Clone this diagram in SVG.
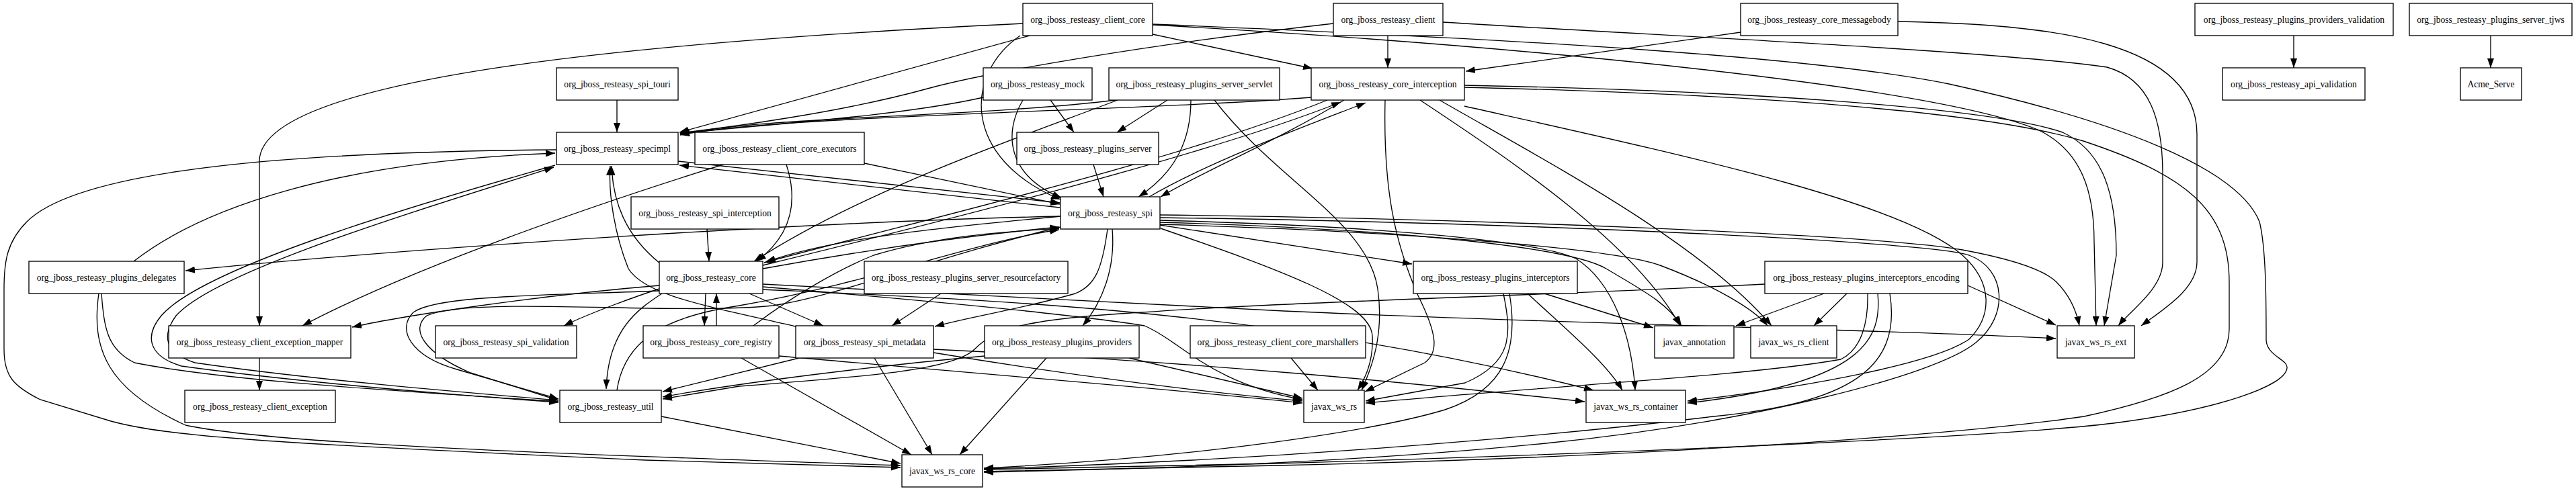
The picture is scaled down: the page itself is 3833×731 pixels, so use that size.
<svg xmlns="http://www.w3.org/2000/svg" width="3833" height="731" viewBox="0 0 3833 731">
<style>
.node rect{fill:#fff;stroke:#000;stroke-width:1.33}
.node text{font-family:"Liberation Serif","Times New Roman",serif;font-size:13.6px;text-anchor:middle;fill:#000}
#edges path{fill:none;stroke:#000;stroke-width:1.33;marker-end:url(#arr)}
</style>
<defs>
<marker id="arr" viewBox="0 0 14 10" refX="14" refY="5" markerWidth="14" markerHeight="10" markerUnits="userSpaceOnUse" orient="auto"><path d="M0,0 L14,5 L0,10 z" fill="#000"/></marker>
</defs>
<rect width="3833" height="731" fill="#fff"/>
<g id="edges">
<path d="M3413,53 L3413,101"/>
<path d="M3706,53 L3706,101"/>
<path d="M918,149 L918,197"/>
<path d="M2065,53 L2065,101"/>
<path d="M2590,48 L2181,106"/>
<path d="M1715,51 L1953,102"/>
<path d="M1532,53 L1011,197"/>
<path d="M1984,35 C1720,65 1480,105 1380,132 C1250,168 1080,190 1012,198"/>
<path d="M1463,145 C1330,175 1100,188 1012,199"/>
<path d="M1660,149 C1450,175 1150,172 1012,200"/>
<path d="M1951,145 C1700,165 1150,172 1012,201"/>
<path d="M1522,35 C1000,60 386,110 386,240 L386,485"/>
<path d="M1518,53 C1435,110 1430,235 1578,297"/>
<path d="M1522,149 C1492,200 1500,262 1580,295"/>
<path d="M1563,149 L1598,197"/>
<path d="M1737,149 L1662,197"/>
<path d="M1772,149 C1772,205 1752,255 1694,293"/>
<path d="M1807,149 C1900,270 2035,330 2050,430 C2060,500 2040,550 2026,581"/>
<path d="M1663,149 C1530,200 1290,280 1122,389"/>
<path d="M1627,245 L1642,293"/>
<path d="M1286,243 L1577,304"/>
<path d="M1170,245 C1188,300 1178,350 1126,389"/>
<path d="M1076,245 C900,300 620,395 450,485"/>
<path d="M1009,240 L1577,302"/>
<path d="M1577,309 L1011,246"/>
<path d="M1052,341 L1055,389"/>
<path d="M2824,32 C3050,36 3269,60 3269,200 L3269,390 C3269,430 3220,460 3186,485"/>
<path d="M2147,33 C2500,55 2960,75 3135,100 C3200,118 3218,180 3218,260 L3218,390 C3218,430 3170,462 3152,485"/>
<path d="M1715,37 C2300,70 2880,130 3032,193 C3100,225 3116,290 3116,360 L3119,485"/>
<path d="M2179,127 C2600,135 2960,160 3069,197 C3130,225 3149,290 3149,380 L3131,485"/>
<path d="M1715,36 C2300,60 2700,85 2900,125 C3150,180 3330,250 3362,330 C3372,370 3372,450 3372,505 C3372,530 3405,535 3403,548 C3400,575 3300,610 3145,630 C3000,648 2500,672 1900,690 L1464,699"/>
<path d="M2179,130 C2600,140 2950,165 3100,210 C3250,260 3317,310 3317,420 L3317,490 C3317,560 3226,593 3101,620 C2900,650 2400,682 1900,693 L1464,702"/>
<path d="M2179,158 C2500,230 2830,300 2920,380 C2965,420 2965,470 2930,505 C2880,540 2700,575 2511,597"/>
<path d="M1726,320 C2200,325 2800,350 2920,372 C2990,385 3040,400 3060,420 C3080,440 3090,465 3094,485"/>
<path d="M1726,324 C2300,332 2870,360 2930,380 C2985,400 2990,470 2940,510 C2880,560 2600,630 2300,660 C2000,690 1700,698 1464,703"/>
<path d="M1726,328 C2000,335 2280,355 2345,385 C2400,420 2428,500 2433,581"/>
<path d="M1726,331 C2050,340 2330,365 2390,400 C2440,430 2480,450 2502,485"/>
<path d="M1726,334 C2100,345 2400,370 2470,395 C2550,425 2610,460 2630,485"/>
<path d="M2113,149 C2250,240 2430,360 2500,485"/>
<path d="M2142,149 C2300,240 2530,360 2636,485"/>
<path d="M2061,149 C2058,280 2075,360 2110,440 C2140,500 2140,525 2120,540 L2031,583"/>
<path d="M1726,335 L2101,393"/>
<path d="M1727,340 C1900,400 2040,450 2042,500 C2044,540 2030,565 2020,581"/>
<path d="M1921,533 L1961,581"/>
<path d="M2237,437 C2250,500 2250,540 2180,570 L2032,597"/>
<path d="M2246,437 C2260,520 2240,580 2150,610 C2050,640 1800,680 1464,697"/>
<path d="M2273,437 C2330,490 2390,540 2414,581"/>
<path d="M2298,437 L2460,488"/>
<path d="M2714,437 L2583,485"/>
<path d="M2748,437 L2699,485"/>
<path d="M2779,437 C2780,480 2770,520 2739,535 C2600,560 2300,575 2032,600"/>
<path d="M2794,437 C2800,500 2780,570 2511,600"/>
<path d="M2812,437 C2830,550 2750,600 2550,620 C2300,650 1900,685 1464,698"/>
<path d="M2928,425 L3059,484"/>
<path d="M2626,423 C2300,440 1900,450 1700,465 C1520,475 1480,490 1450,520 C1420,550 1300,560 1100,575 L986,594"/>
<path d="M1135,423 L1910,463 C2400,485 2800,490 3059,504"/>
<path d="M1135,427 C1350,445 1600,468 1703,485 C1760,510 1800,570 1938,595"/>
<path d="M1135,431 C1500,448 1900,462 2371,581"/>
<path d="M1050,437 L1048,485"/>
<path d="M1066,485 L1066,437"/>
<path d="M1115,437 L1225,485"/>
<path d="M1400,437 L1327,485"/>
<path d="M1121,485 C1180,440 1250,400 1300,380 C1400,350 1500,345 1576,340"/>
<path d="M1103,533 L1356,677"/>
<path d="M1159,530 C1500,560 1750,580 1938,600"/>
<path d="M1301,533 L1387,677"/>
<path d="M1189,533 L986,583"/>
<path d="M1389,525 C1600,560 1800,585 1938,597"/>
<path d="M1389,520 C1800,540 2100,570 2358,598"/>
<path d="M1465,530 C1300,545 1100,570 986,591"/>
<path d="M1557,533 L1428,677"/>
<path d="M1680,533 L1938,593"/>
<path d="M1648,341 C1640,400 1630,425 1600,437 C1520,460 1450,470 1391,486"/>
<path d="M1655,341 C1660,400 1640,450 1611,485"/>
<path d="M984,620 L1340,690"/>
<path d="M1578,322 C1200,330 600,370 276,403"/>
<path d="M199,389 C300,310 500,240 826,228"/>
<path d="M151,437 C155,490 160,520 200,540 C350,570 650,585 831,598"/>
<path d="M147,437 C135,520 160,580 276,633 C400,660 800,675 1340,693"/>
<path d="M828,223 C450,226 120,250 40,330 C10,360 6,390 6,430 L6,520 C6,560 20,575 60,595 L165,627 C250,650 400,660 960,685 L1340,696"/>
<path d="M826,246 C600,310 300,400 240,470 C215,500 220,530 270,545 C450,570 700,590 831,599"/>
<path d="M831,596 C700,585 460,565 290,540 C245,525 240,500 262,470 C320,405 600,320 824,249"/>
<path d="M386,533 L386,581"/>
<path d="M981,425 C800,440 600,470 524,487"/>
<path d="M981,430 C950,440 880,465 839,485"/>
<path d="M985,437 C950,460 905,490 902,579"/>
<path d="M918,581 C930,500 1000,470 1100,455 C1300,420 1450,360 1576,342"/>
<path d="M981,433 C800,440 650,440 615,465 C590,490 610,530 680,550 L831,594"/>
<path d="M1578,338 C1400,380 1250,440 1150,455 C1000,470 700,440 635,470 C610,490 630,525 700,555 L831,596"/>
<path d="M982,392 C930,350 912,300 910,247"/>
<path d="M1184,486 C1050,455 960,440 935,400 C915,350 905,290 908,247"/>
<path d="M1578,322 C1450,335 1250,350 1140,390"/>
<path d="M1135,400 C1300,370 1450,350 1576,338"/>
<path d="M1135,395 C1400,330 1800,230 1995,152"/>
<path d="M1975,149 C1750,240 1400,320 1137,391"/>
<path d="M1710,293 C1800,240 1950,185 2032,153"/>
<path d="M2000,149 C1900,210 1790,255 1727,293"/>
</g>
<g id="org_jboss_resteasy_client_core" class="node"><rect x="1522" y="5" width="193" height="48"/><text x="1618.5" y="33.7">org_jboss_resteasy_client_core</text></g>
<g id="org_jboss_resteasy_client" class="node"><rect x="1984" y="5" width="163" height="48"/><text x="2065.5" y="33.7">org_jboss_resteasy_client</text></g>
<g id="org_jboss_resteasy_core_messagebody" class="node"><rect x="2590" y="5" width="234" height="48"/><text x="2707" y="33.7">org_jboss_resteasy_core_messagebody</text></g>
<g id="org_jboss_resteasy_plugins_providers_validation" class="node"><rect x="3266" y="5" width="295" height="48"/><text x="3413.5" y="33.7">org_jboss_resteasy_plugins_providers_validation</text></g>
<g id="org_jboss_resteasy_plugins_server_tjws" class="node"><rect x="3585" y="5" width="242" height="48"/><text x="3706" y="33.7">org_jboss_resteasy_plugins_server_tjws</text></g>
<g id="org_jboss_resteasy_spi_touri" class="node"><rect x="828" y="101" width="181" height="48"/><text x="918.5" y="129.7">org_jboss_resteasy_spi_touri</text></g>
<g id="org_jboss_resteasy_mock" class="node"><rect x="1463" y="101" width="162" height="48"/><text x="1544" y="129.7">org_jboss_resteasy_mock</text></g>
<g id="org_jboss_resteasy_plugins_server_servlet" class="node"><rect x="1650" y="101" width="254" height="48"/><text x="1777" y="129.7">org_jboss_resteasy_plugins_server_servlet</text></g>
<g id="org_jboss_resteasy_core_interception" class="node"><rect x="1951" y="101" width="228" height="48"/><text x="2065" y="129.7">org_jboss_resteasy_core_interception</text></g>
<g id="org_jboss_resteasy_api_validation" class="node"><rect x="3307" y="101" width="212" height="48"/><text x="3413" y="129.7">org_jboss_resteasy_api_validation</text></g>
<g id="Acme_Serve" class="node"><rect x="3661" y="101" width="91" height="48"/><text x="3706.5" y="129.7">Acme_Serve</text></g>
<g id="org_jboss_resteasy_specimpl" class="node"><rect x="828" y="197" width="181" height="48"/><text x="918.5" y="225.7">org_jboss_resteasy_specimpl</text></g>
<g id="org_jboss_resteasy_client_core_executors" class="node"><rect x="1034" y="197" width="252" height="48"/><text x="1160" y="225.7">org_jboss_resteasy_client_core_executors</text></g>
<g id="org_jboss_resteasy_plugins_server" class="node"><rect x="1513" y="197" width="211" height="48"/><text x="1618.5" y="225.7">org_jboss_resteasy_plugins_server</text></g>
<g id="org_jboss_resteasy_spi_interception" class="node"><rect x="939" y="293" width="220" height="48"/><text x="1049" y="321.7">org_jboss_resteasy_spi_interception</text></g>
<g id="org_jboss_resteasy_spi" class="node"><rect x="1578" y="293" width="148" height="48"/><text x="1652" y="321.7">org_jboss_resteasy_spi</text></g>
<g id="org_jboss_resteasy_plugins_delegates" class="node"><rect x="43" y="389" width="231" height="48"/><text x="158.5" y="417.7">org_jboss_resteasy_plugins_delegates</text></g>
<g id="org_jboss_resteasy_core" class="node"><rect x="981" y="389" width="154" height="48"/><text x="1058" y="417.7">org_jboss_resteasy_core</text></g>
<g id="org_jboss_resteasy_plugins_server_resourcefactory" class="node"><rect x="1286" y="389" width="303" height="48"/><text x="1437.5" y="417.7">org_jboss_resteasy_plugins_server_resourcefactory</text></g>
<g id="org_jboss_resteasy_plugins_interceptors" class="node"><rect x="2103" y="389" width="244" height="48"/><text x="2225" y="417.7">org_jboss_resteasy_plugins_interceptors</text></g>
<g id="org_jboss_resteasy_plugins_interceptors_encoding" class="node"><rect x="2626" y="389" width="302" height="48"/><text x="2777" y="417.7">org_jboss_resteasy_plugins_interceptors_encoding</text></g>
<g id="org_jboss_resteasy_client_exception_mapper" class="node"><rect x="251" y="485" width="271" height="48"/><text x="386.5" y="513.7">org_jboss_resteasy_client_exception_mapper</text></g>
<g id="org_jboss_resteasy_spi_validation" class="node"><rect x="648" y="485" width="210" height="48"/><text x="753" y="513.7">org_jboss_resteasy_spi_validation</text></g>
<g id="org_jboss_resteasy_core_registry" class="node"><rect x="957" y="485" width="202" height="48"/><text x="1058" y="513.7">org_jboss_resteasy_core_registry</text></g>
<g id="org_jboss_resteasy_spi_metadata" class="node"><rect x="1184" y="485" width="205" height="48"/><text x="1286.5" y="513.7">org_jboss_resteasy_spi_metadata</text></g>
<g id="org_jboss_resteasy_plugins_providers" class="node"><rect x="1465" y="485" width="230" height="48"/><text x="1580" y="513.7">org_jboss_resteasy_plugins_providers</text></g>
<g id="org_jboss_resteasy_client_core_marshallers" class="node"><rect x="1771" y="485" width="261" height="48"/><text x="1901.5" y="513.7">org_jboss_resteasy_client_core_marshallers</text></g>
<g id="javax_annotation" class="node"><rect x="2462" y="485" width="118" height="48"/><text x="2521" y="513.7">javax_annotation</text></g>
<g id="javax_ws_rs_client" class="node"><rect x="2605" y="485" width="128" height="48"/><text x="2669" y="513.7">javax_ws_rs_client</text></g>
<g id="javax_ws_rs_ext" class="node"><rect x="3061" y="485" width="115" height="48"/><text x="3118.5" y="513.7">javax_ws_rs_ext</text></g>
<g id="org_jboss_resteasy_client_exception" class="node"><rect x="275" y="581" width="224" height="48"/><text x="387" y="609.7">org_jboss_resteasy_client_exception</text></g>
<g id="org_jboss_resteasy_util" class="node"><rect x="833" y="581" width="151" height="48"/><text x="908.5" y="609.7">org_jboss_resteasy_util</text></g>
<g id="javax_ws_rs" class="node"><rect x="1940" y="581" width="90" height="48"/><text x="1985" y="609.7">javax_ws_rs</text></g>
<g id="javax_ws_rs_container" class="node"><rect x="2360" y="581" width="148" height="48"/><text x="2434" y="609.7">javax_ws_rs_container</text></g>
<g id="javax_ws_rs_core" class="node"><rect x="1342" y="677" width="120" height="48"/><text x="1402" y="705.7">javax_ws_rs_core</text></g>
</svg>
